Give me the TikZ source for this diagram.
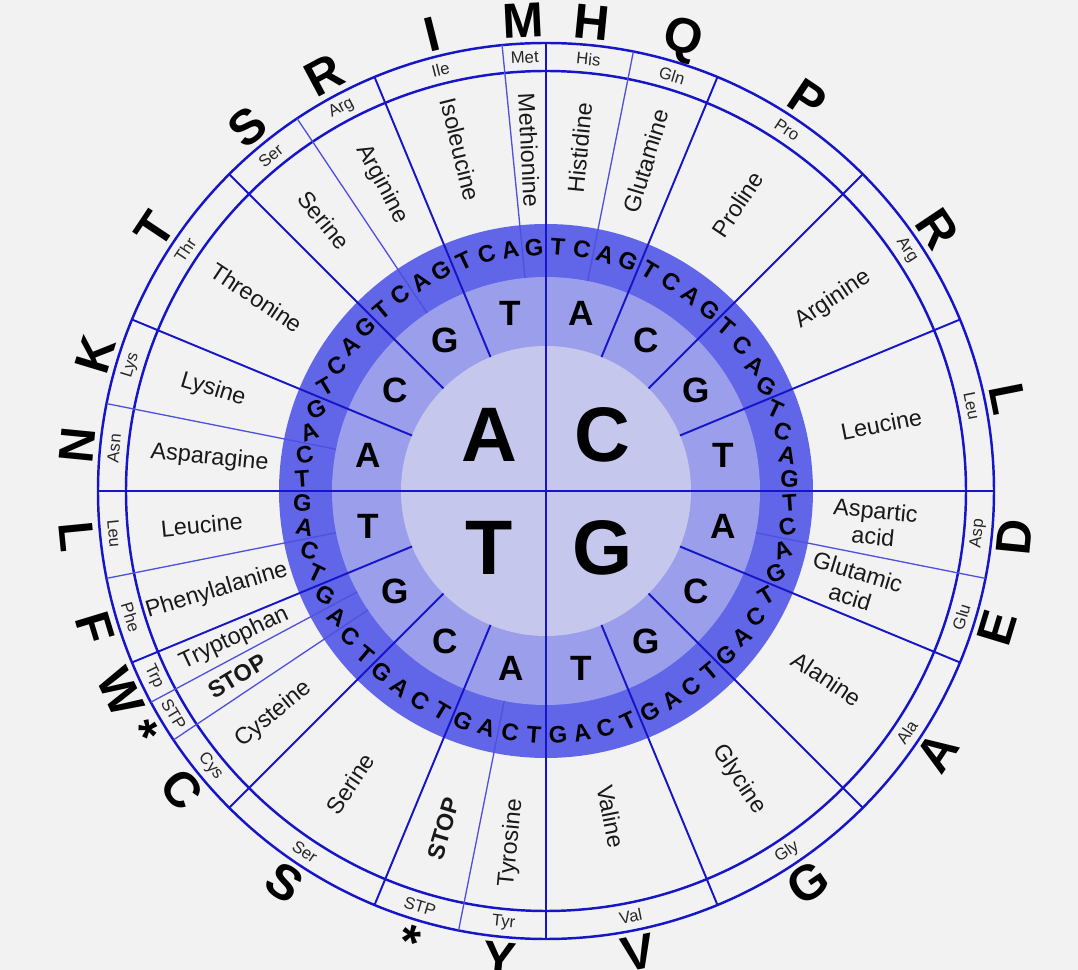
\documentclass[tikz,border=0pt]{standalone}
\usepackage{fontspec}
\setmainfont{Liberation Sans}
\definecolor{paper}{RGB}{242,242,243}
\definecolor{discA}{RGB}{197,199,236}
\definecolor{discB}{RGB}{155,158,234}
\definecolor{discC}{RGB}{97,101,232}
\definecolor{rim}{RGB}{22,22,200}
\definecolor{rimlight}{RGB}{80,80,222}

\begin{document}
\begin{tikzpicture}[x=0.2mm,y=0.2mm]
	\tikzset{quad/.style={rim, line width=1.7pt},
		split/.style={rim, line width=1.1pt},
		subsplit/.style={rimlight, line width=0.75pt},
		base1/.style={font=\fontsize{44}{44}\selectfont\bfseries, inner sep=0pt},
		base2/.style={font=\fontsize{20}{20}\selectfont\bfseries, inner sep=0pt},
		base3/.style={font=\fontsize{13.5}{13.5}\selectfont\bfseries, inner sep=0pt},
		aaname/.style={font=\fontsize{13.3}{15}\selectfont, text=black!90, align=center, inner sep=0pt},
		aashort/.style={font=\fontsize{9.5}{9.5}\selectfont, text=black!85, inner sep=0pt},
		aaletter/.style={font=\fontsize{28}{28}\selectfont\bfseries, inner sep=0pt}}
	\clip (-546,-479) rectangle (532,491);
	\fill[paper] (-546,-479) rectangle (532,491);
	% rings
	\fill[discC] (0,0) circle[radius=267];
	\fill[discB] (0,0) circle[radius=214];
	\fill[discA] (0,0) circle[radius=145];
	\draw[rim, line width=1.4pt] (0,0) circle[radius=420] (0,0) circle[radius=448];
	% dividers
	\foreach \m in {1,2,3,5,6,7,9,10,11,13,14,15}
		\draw[split] (90-22.5*\m:145) -- (90-22.5*\m:448);
	\foreach \k in {2,18,34,42,43,46,50,58,63}
		\draw[subsplit] (90-5.625*\k:214) -- (90-5.625*\k:448);
	\draw[quad] (-448,0) -- (448,0);
	\draw[quad] (0,-448) -- (0,448);
	% first base
	\foreach \b/\t in {C/45,G/-45,T/-135,A/135}
		\node[base1] (first-\b) at (\t:80) {\b};
	% second base
	\foreach \b [count=\m from 0] in {A,C,G,T,A,C,G,T,A,C,G,T,A,C,G,T}
		\node[base2] (second-\m) at (78.75-22.5*\m:181) {\b};
	% third base
	\foreach \k in {0,...,63}{
		\pgfmathsetmacro\t{87.1875-5.625*\k}
		\pgfmathtruncatemacro\q{mod(\k,4)}
		\node[base3, rotate={-40*sin(2*\t)}] (third-\k) at (\t:244)
			{\ifcase\q T\or C\or A\or G\fi};
	}
	% amino acids
	\foreach \a/\b/\r/\full/\abbr/\one in {
		0/1/345/Histidine/His/H,
		2/3/345/Glutamine/Gln/Q,
		4/7/345/Proline/Pro/P,
		8/11/345/Arginine/Arg/R,
		12/15/342/Leucine/Leu/L,
		16/17/330/{Aspartic\\acid}/Asp/D,
		18/19/322/{Glutamic\\acid}/Glu/E,
		20/23/338/Alanine/Ala/A,
		24/27/347/Glycine/Gly/G,
		28/31/332/Valine/Val/V,
		32/33/354/Tyrosine/Tyr/Y,
		34/35/353/{\bfseries STOP}/STP/*,
		36/39/352/Serine/Ser/S,
		40/41/352/Cysteine/Cys/C,
		42/42/360/{\bfseries STOP}/STP/*,
		43/43/345/Tryptophan/Trp/W,
		44/45/344/Phenylalanine/Phe/F,
		46/47/346/Leucine/Leu/L,
		48/49/338/Asparagine/Asn/N,
		50/51/348/Lysine/Lys/K,
		52/55/348/Threonine/Thr/T,
		56/57/350/Serine/Ser/S,
		58/59/348/Arginine/Arg/R,
		60/62/352/Isoleucine/Ile/I,
		63/63/341/Methionine/Met/M}{
		\pgfmathsetmacro\t{90-5.625*(\a+\b+1)/2}
		\pgfmathsetmacro\rn{ifthenelse(\t>-90,\t,\t+180)}
		\pgfmathsetmacro\ro{ifthenelse(and(\t<0,\t>-180),\t+90,\t-90)}
		\node[aaname, rotate=\rn] (name-\a) at (\t:\r) {\full};
		\node[aashort, rotate=\ro] (short-\a) at (\t:434) {\abbr};
		\node[aaletter, rotate=\ro] (one-\a) at (\t:471) {\one};
	}
\end{tikzpicture}
\end{document}
